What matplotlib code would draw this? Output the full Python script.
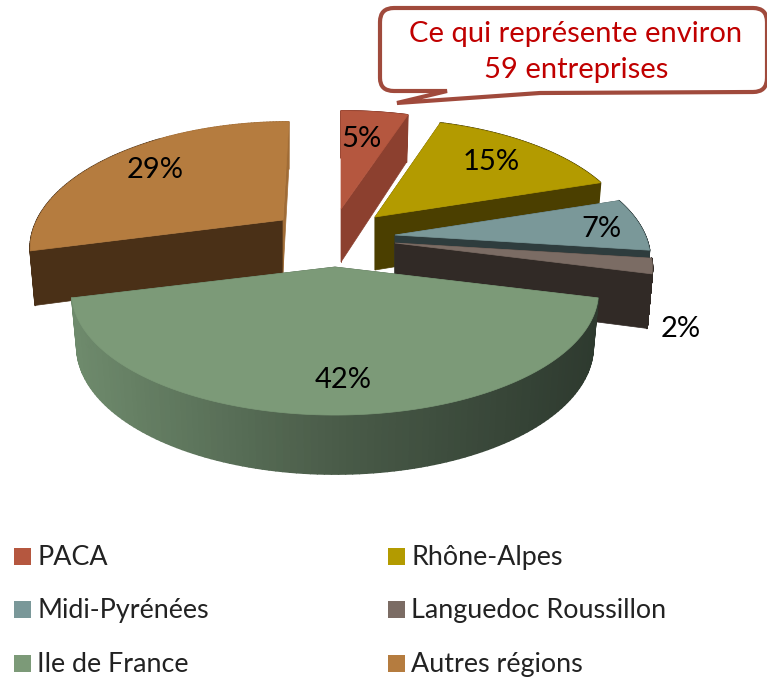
"""Exploded 3D-style pie of companies by region, drawn on a pixel-sized axes."""

import matplotlib
matplotlib.use("Agg")
import matplotlib.pyplot as plt
import numpy as np
from matplotlib.collections import PolyCollection
from matplotlib.colors import LinearSegmentedColormap
from matplotlib.patches import PathPatch, Polygon, Rectangle
from matplotlib.path import Path

# data
regions = ["PACA", "Rhône-Alpes", "Midi-Pyrénées", "Languedoc Roussillon",
           "Ile de France", "Autres régions"]
shares = [5, 15, 7, 2, 42, 29]
callout_lines = "Ce qui représente environ\n59 entreprises"

# styles
top_colors = ["#b5573f", "#b39b00", "#7a9899", "#7b6c64", "#7c9a78", "#b57c3f"]
wall_colors = ["#8c402f", "#4b3f00", "#2e3c3d", "#312a26", "#445442", "#4a3017"]
end_cut_colors = ["#8c402f", "#4b3f00", "#2e3c3d", "#312a26", "#445442", "#a06c36"]
apex_px = [(341, 209), (375, 217), (395, 235), (395, 243), (335, 267), (283, 220)]
radius_x = [258, 252, 250, 252, 258, 246]
skew = [0, 0, 0, 0, 0, 0.06]
label_px = [(361, 139), (491, 162), (601, 229), (681, 329), (343, 380), (155, 170)]
legend_rows = [565, 618, 672]
legend_cols = [14, 388]

RY, K = 118, 0.203  # perspective of the pie disc
FONT = "Lato"
LABEL_SIZE = 21


def rim(theta, ax_, ay_, rx, sk):
    u, v = np.sin(theta), np.cos(theta)
    s = 1 / (1 + K * v)
    y = ay_ - RY * v * s
    x = ax_ + rx * u * s + sk * (ay_ - y)
    return x, y


def floor(x, y, theta, ax_):
    return ax_ + (x - ax_) * 0.98, y + 53 - 6 * np.cos(theta)


def draw_slice(ax, i, t0, t1):
    ax_, ay_ = apex_px[i]
    th = np.linspace(t0, t1, 120)
    x, y = rim(th, ax_, ay_, radius_x[i], skew[i])
    xb, yb = floor(x, y, th, ax_)
    ay_b = ay_ + 53

    for k, col in ((0, wall_colors[i]), (-1, end_cut_colors[i])):
        ax.add_patch(Polygon([(ax_, ay_), (x[k], y[k]), (xb[k], yb[k]), (ax_, ay_b)],
                             fc=col, ec=col, lw=0.5))

    quads = [[(x[j], y[j]), (x[j + 1], y[j + 1]), (xb[j + 1], yb[j + 1]), (xb[j], yb[j])]
             for j in range(len(th) - 1)]
    if i == 4:  # big slice has the shaded rim
        cmap = LinearSegmentedColormap.from_list("rim", ["#6e8a6c", "#4a5c49", "#2e3a2f"])
        cols = [cmap((q[0][0] - 75) / 522) for q in quads]
    else:
        cols = [end_cut_colors[i] if np.cos(t) > 0.8 else wall_colors[i] for t in th[:-1]]
    ax.add_collection(PolyCollection(quads, facecolors=cols, edgecolors=cols, linewidths=1.2))

    pts = [(ax_, ay_)] + list(zip(x, y))
    ax.add_patch(Polygon(pts, fc=top_colors[i], ec=top_colors[i], lw=0.5))


def main():
    fig = plt.figure(figsize=(7.67, 6.77), dpi=100)
    ax = fig.add_axes([0, 0, 1, 1])
    ax.set_xlim(0, 767); ax.set_ylim(677, 0)
    ax.axis("off")

    edges = np.radians(np.concatenate([[0], np.cumsum(shares)]) * 3.6)
    for i in [0, 1, 2, 3, 5, 4]:
        draw_slice(ax, i, edges[i], edges[i + 1])

    for v, (px, py) in zip(shares, label_px):
        ax.text(px, py, f"{v}%", fontsize=LABEL_SIZE, family=FONT, color="black",
                ha="center", va="center")

    # speech bubble, runs off the right edge a little
    L, R, T, B, r = 380, 767, 8, 92, 14
    verts = [(L + r, T), (R - r, T), (R, T), (R, T + r), (R, B - r), (R, B), (R - r, B),
             (540, B + 1), (397, 103), (447, 91), (L + r, B - 1), (L, B - 1), (L, B - r),
             (L, T + r), (L, T), (L + r, T), (L + r, T)]
    codes = [Path.MOVETO, Path.LINETO, Path.CURVE3, Path.CURVE3, Path.LINETO, Path.CURVE3,
             Path.CURVE3, Path.LINETO, Path.LINETO, Path.LINETO, Path.LINETO, Path.CURVE3,
             Path.CURVE3, Path.LINETO, Path.CURVE3, Path.CURVE3, Path.CLOSEPOLY]
    ax.add_patch(PathPatch(Path(verts, codes), fc="white", ec="#a04a3c", lw=3))
    ax.text(576, 52, callout_lines, fontsize=21, family=FONT, color="#c00000",
            ha="center", va="center", linespacing=1.45)

    for i, name in enumerate(regions):
        col = legend_cols[i % 2]
        base = legend_rows[i // 2]
        ax.add_patch(Rectangle((col, base - 17), 17, 17, fc=top_colors[i], ec="none"))
        ax.text(col + 23, base, name, fontsize=19.4, family=FONT, color="#222222",
                ha="left", va="baseline")

    fig.savefig("out.png", dpi=100)


if __name__ == "__main__":
    main()
